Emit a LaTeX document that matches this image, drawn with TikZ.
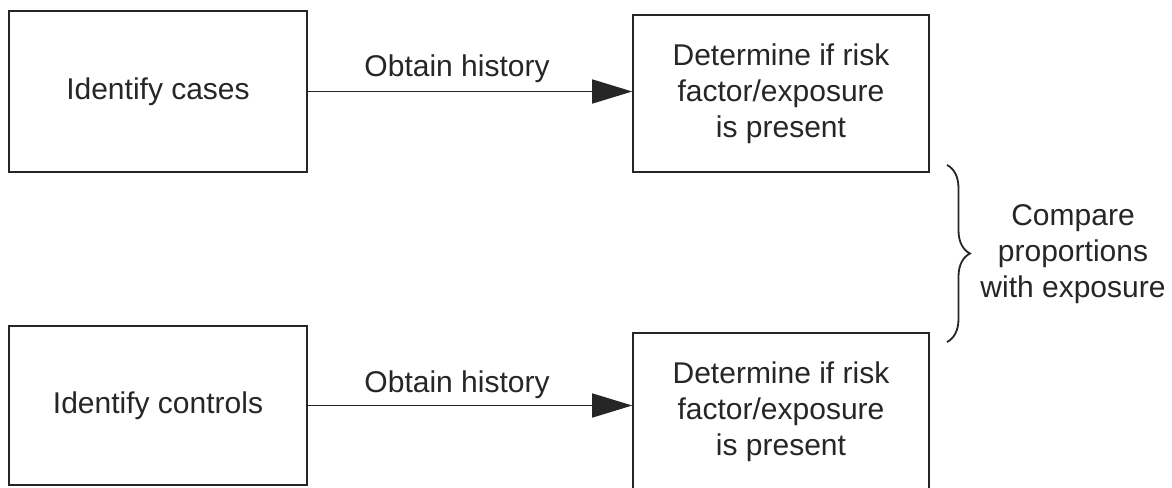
\documentclass[tikz,border=0pt]{standalone}
\usepackage{fontspec}
\setmainfont{Liberation Sans}
\usetikzlibrary{arrows.meta,decorations.pathreplacing}
\definecolor{ink}{HTML}{262626}
\begin{document}
\begin{tikzpicture}[x=1pt,y=-1pt,
  every node/.style={text=ink, font=\fontsize{30}{36}\selectfont},
  box/.style={draw=ink, line width=1.6pt, minimum width=298pt, align=center, inner sep=0pt},
  conn/.style={draw=ink, line width=1.6pt, -{Triangle[length=40pt,width=24pt]}},
  lbl/.style={anchor=base, inner sep=0pt}]
\useasboundingbox (0,0) rectangle (1172,487);
\clip (0,0) rectangle (1172,487);
\fill[white] (0,0) rectangle (1172,487);
\node[box, minimum height=161pt] (cases) at (158,91.5) {Identify cases};
\node[box, minimum width=296pt, minimum height=157pt] (riskA) at (781,93.5) {Determine if risk\\factor/exposure\\is present};
\node[box, minimum height=159pt] (controls) at (158,405.5) {Identify controls};
\node[box, minimum width=296pt, minimum height=157pt] (riskB) at (781,411.5) {Determine if risk\\factor/exposure\\is present};
\draw[conn] (cases.east) -- (cases.east -| riskA.west)
  node[lbl, pos=0.46, yshift=15pt] (labA) {Obtain history};
\draw[conn] (controls.east) -- (controls.east -| riskB.west)
  node[lbl, pos=0.46, yshift=13pt] (labB) {Obtain history};
\coordinate (bt) at (947,165);
\coordinate (bb) at (947,342);
\draw[ink, line width=1.8pt, decorate, decoration={brace, amplitude=23pt}] (bt) -- (bb);
\node[align=center] (cmp) at (1073,254) {Compare\\proportions\\with exposure};
\end{tikzpicture}
\end{document}
